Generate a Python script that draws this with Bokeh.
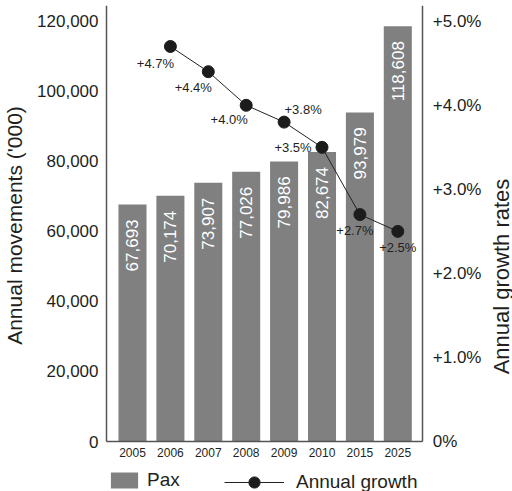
from math import pi

from bokeh.core.properties import value
from bokeh.embed import file_html
from bokeh.models import (ColumnDataSource, FixedTicker, Label, Legend, LegendItem,
                          LinearAxis, NumeralTickFormatter, Range1d)
from bokeh.plotting import figure
from bokeh.resources import INLINE

# Passenger movements per year ('000) and annual growth rates (%)
years = ["2005", "2006", "2007", "2008", "2009", "2010", "2015", "2025"]
pax = [67693, 70174, 73907, 77026, 79986, 82674, 93979, 118608]
growth_years = ["2006", "2007", "2008", "2009", "2010", "2015", "2025"]
growth = [4.7, 4.4, 4.0, 3.8, 3.5, 2.7, 2.5]

pax_ticks = [0, 20000, 40000, 60000, 80000, 100000, 120000]
growth_ticks = [0, 1, 2, 3, 4, 5]
growth_tick_labels = ["0%", "+1.0%", "+2.0%", "+3.0%", "+4.0%", "+5.0%"]

# pixel nudges for the growth labels (x right, y down)
growth_label_dx = [-15, -15, -17, 19, -29, -5, 0]
growth_label_dy = [17, 16, 14, -13, 0, 16, 16]

FONT = "Liberation Sans"
INK = "#231f20"
BAR = "#808080"
AXIS = "#555555"

W, H = 512, 491
# the bars sit between x = X0 and X1 (106 px to 422 px across the page);
# the frame covers the whole page so the axes are drawn at fixed places
X0, X1 = -0.686, 7.66
PX_PER_X = 37.9
PAX_MAX = 124500
GROWTH_MAX = PAX_MAX / 120000 * 5
BELOW = 50 / 436
XSTART = X0 - 106 / PX_PER_X

bar_src = ColumnDataSource(dict(
    x=list(range(len(years))),
    pax=pax,
    label=[f"{v:,}" for v in pax],
))
growth_src = ColumnDataSource(dict(
    x=[years.index(y) for y in growth_years],
    g=growth,
    label=[f"+{v:.1f}%" for v in growth],
    dx=growth_label_dx,
    dy=growth_label_dy,
))

p = figure(width=W, height=H, output_backend="svg", toolbar_location=None,
           x_range=Range1d(XSTART, XSTART + W / PX_PER_X),
           y_range=Range1d(-PAX_MAX * BELOW, PAX_MAX),
           min_border_left=0, min_border_right=0,
           min_border_top=5, min_border_bottom=0)
p.extra_y_ranges = {"growth": Range1d(-GROWTH_MAX * BELOW, GROWTH_MAX)}
p.outline_line_color = None
p.grid.visible = False
p.background_fill_color = "white"
p.border_fill_color = "white"

bars = p.vbar(x="x", top="pax", width=0.74, source=bar_src,
              fill_color=BAR, line_color=None)
p.text(x="x", y="pax", text="label", source=bar_src, angle=pi / 2,
       text_align="right", text_baseline="middle", y_offset=15,
       text_color="white", text_font=value(FONT), text_font_size="17px")

line = p.line(x="x", y="g", source=growth_src, y_range_name="growth",
              line_color="#222222", line_width=1)
dots = p.scatter(x="x", y="g", source=growth_src, y_range_name="growth",
                 size=12, fill_color="#1c1c1c", line_color="#1c1c1c")
p.text(x="x", y="g", text="label", source=growth_src, y_range_name="growth",
       x_offset="dx", y_offset="dy", text_align="center", text_baseline="middle",
       text_color=INK, text_font=value(FONT), text_font_size="13px")

# bottom axis: years, drawn along y = 0
bx = p.xaxis[0]
bx.fixed_location = 0
bx.bounds = (X0, X1)
bx.ticker = FixedTicker(ticks=list(range(len(years))))
bx.major_label_overrides = {i: y for i, y in enumerate(years)}
bx.major_label_text_font_size = "12px"
bx.major_label_standoff = 6

# left axis: movements
ly = p.yaxis[0]
ly.fixed_location = X0
ly.ticker = FixedTicker(ticks=pax_ticks)
ly.formatter = NumeralTickFormatter(format="0,0")
ly.bounds = (0, PAX_MAX)
ly.major_label_standoff = 8

# right axis: growth rates
ry = LinearAxis(y_range_name="growth", fixed_location=X1,
                ticker=FixedTicker(ticks=growth_ticks),
                major_label_overrides={t: s for t, s in zip(growth_ticks, growth_tick_labels)})
ry.bounds = (0, GROWTH_MAX)
ry.major_label_standoff = 10
p.add_layout(ry, "right")

for ax in (bx, ly, ry):
    ax.major_tick_line_color = None
    ax.minor_tick_line_color = None
    ax.major_tick_out = 0
    ax.major_tick_in = 0
    ax.minor_tick_out = 0
    ax.minor_tick_in = 0
    ax.axis_line_color = AXIS
    ax.axis_line_width = 1.5
    ax.major_label_text_font = FONT
    ax.major_label_text_color = INK
for ax in (ly, ry):
    ax.major_label_text_font_size = "17px"

# axis titles, both reading upwards
title_style = dict(x_units="screen", y_units="screen", angle=pi / 2,
                   text_align="center", text_baseline="top",
                   text_font=FONT, text_color=INK)
p.add_layout(Label(x=2, y=H - 225, text="Annual movements ('000)",
                   text_font_size="21px", **title_style))
p.add_layout(Label(x=488, y=H - 276, text="Annual growth rates",
                   text_font_size="22px", **title_style))

legend_style = dict(orientation="horizontal", padding=0, margin=0, spacing=0,
                    border_line_color=None, background_fill_alpha=0,
                    label_text_font=FONT, label_text_font_size="19px",
                    label_text_color=INK)
p.add_layout(Legend(items=[LegendItem(label="Pax", renderers=[bars])],
                    location=(107, 0), glyph_width=34, glyph_height=20,
                    label_standoff=6, **legend_style), "center")
p.add_layout(Legend(items=[LegendItem(label="Annual growth", renderers=[line, dots])],
                    location=(224, -5), glyph_width=60, glyph_height=28,
                    label_standoff=12, **legend_style), "center")

open("out.html", "w").write(file_html(p, INLINE))
